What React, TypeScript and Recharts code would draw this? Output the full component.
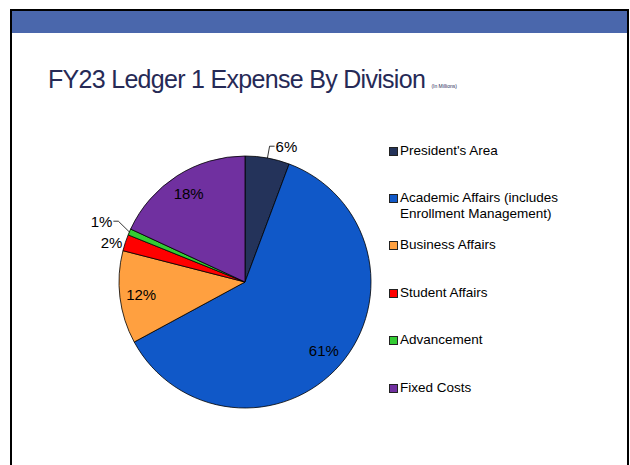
import { PieChart, Pie, Cell, Legend } from 'recharts'

const divisions = [
  "President's Area",
  'Academic Affairs (includes Enrollment Management)',
  'Business Affairs',
  'Student Affairs',
  'Advancement',
  'Fixed Costs',
]
const legendLines = [
  ["President's Area"],
  ['Academic Affairs (includes', 'Enrollment Management)'],
  ['Business Affairs'],
  ['Student Affairs'],
  ['Advancement'],
  ['Fixed Costs'],
]
// share of ledger 1 expense
const expense = [5.7, 61.4, 11.9, 2.1, 0.8, 18.1]
const colors = ['#24335A', '#1058C8', '#FFA040', '#FF0000', '#33CC33', '#7030A0']

const data = divisions.map((name, i) => ({ name, value: expense[i] }))

// how each slice label sits: inside the pie, or outside with an optional leader
const labelPlacement = [
  { inside: false, gap: 12, leader: true, lift: 0 },
  { inside: true, gap: 0, leader: false, lift: 0 },
  { inside: true, gap: 0, leader: false, lift: 0 },
  { inside: false, gap: 2, leader: false, lift: 0 },
  { inside: false, gap: 12, leader: true, lift: 6 },
  { inside: true, gap: 0, leader: false, lift: 0 },
]

const RAD = Math.PI / 180

const renderLabel = (props: any) => {
  const { cx, cy, midAngle, outerRadius, percent, index } = props
  const text = `${Math.round(percent * 100)}%`
  const p = labelPlacement[index]
  const cos = Math.cos(-midAngle * RAD)
  const sin = Math.sin(-midAngle * RAD)
  if (p.inside) {
    const r = outerRadius * 0.83
    return (
      <text
        x={cx + r * cos}
        y={cy + r * sin}
        fill="#000"
        fontSize={15}
        fontFamily="Arial, 'Liberation Sans', sans-serif"
        textAnchor="middle"
        dominantBaseline="central"
      >
        {text}
      </text>
    )
  }
  const side = cos >= 0 ? 1 : -1
  const ex = cx + outerRadius * cos
  const ey = cy + outerRadius * sin
  const mx = cx + (outerRadius + p.gap) * cos
  const my = cy + (outerRadius + p.gap) * sin - p.lift
  const hx = mx + side * 5
  return (
    <g>
      {p.leader && (
        <polyline
          points={`${ex},${ey} ${mx},${my} ${hx},${my}`}
          fill="none"
          stroke="#000"
          strokeWidth={0.8}
        />
      )}
      <text
        x={p.leader ? hx + side * 1 : mx + side * 1}
        y={my}
        fill="#000"
        fontSize={15}
        fontFamily="Arial, 'Liberation Sans', sans-serif"
        textAnchor={side > 0 ? 'start' : 'end'}
        dominantBaseline="central"
      >
        {text}
      </text>
    </g>
  )
}

const legendTops = [143, 190, 237, 285, 332, 380]

const renderLegend = () => (
  <div style={{ position: 'relative', width: 220, height: 260 }}>
    {legendLines.map((lines, i) => (
      <div
        key={i}
        style={{
          position: 'absolute',
          left: 0,
          top: legendTops[i] - 143,
          display: 'flex',
          alignItems: 'flex-start',
          fontFamily: "Arial, 'Liberation Sans', sans-serif",
          fontSize: 13.5,
          lineHeight: '16px',
          color: '#000',
        }}
      >
        <span
          style={{
            width: 7,
            height: 7,
            marginTop: 4,
            marginRight: 2,
            background: colors[i],
            border: '1px solid #222',
            flexShrink: 0,
          }}
        />
        <span>
          {lines.map((l, j) => (
            <div key={j}>{l}</div>
          ))}
        </span>
      </div>
    ))}
  </div>
)

export default function App() {
  return (
    <div
      style={{
        position: 'absolute',
        left: 0,
        top: 0,
        width: 630,
        height: 465,
        background: '#fff',
        overflow: 'hidden',
      }}
    >
      <div
        style={{
          position: 'absolute',
          left: 10,
          top: 9,
          width: 615,
          height: 470,
          border: '2px solid #000',
          boxSizing: 'content-box',
        }}
      />
      <div
        style={{
          position: 'absolute',
          left: 12,
          top: 11,
          width: 615,
          height: 22,
          background: '#4A67AC',
        }}
      />
      <div
        style={{
          position: 'absolute',
          left: 48,
          top: 65,
          fontFamily: "Arial, 'Liberation Sans', sans-serif",
          fontSize: 25,
          letterSpacing: -0.7,
          color: '#262A56',
          whiteSpace: 'nowrap',
        }}
      >
        FY23 Ledger 1 Expense By Division{' '}
        <span style={{ fontSize: 5, letterSpacing: 0 }}>(In Millions)</span>
      </div>
      <div style={{ position: 'absolute', left: 0, top: 0 }}>
        <PieChart width={630} height={465} margin={{ top: 0, right: 0, bottom: 0, left: 0 }}>
          <Pie
            data={data}
            dataKey="value"
            nameKey="name"
            cx={245}
            cy={282}
            outerRadius={126}
            startAngle={90}
            endAngle={-270}
            stroke="#000"
            strokeWidth={0.8}
            label={renderLabel}
            labelLine={false}
            isAnimationActive={false}
          >
            {data.map((d, i) => (
              <Cell key={d.name} fill={colors[i]} />
            ))}
          </Pie>
          <Legend
            layout="vertical"
            content={renderLegend}
            wrapperStyle={{ position: 'absolute', left: 389, top: 143, width: 220 }}
          />
        </PieChart>
      </div>
    </div>
  )
}
